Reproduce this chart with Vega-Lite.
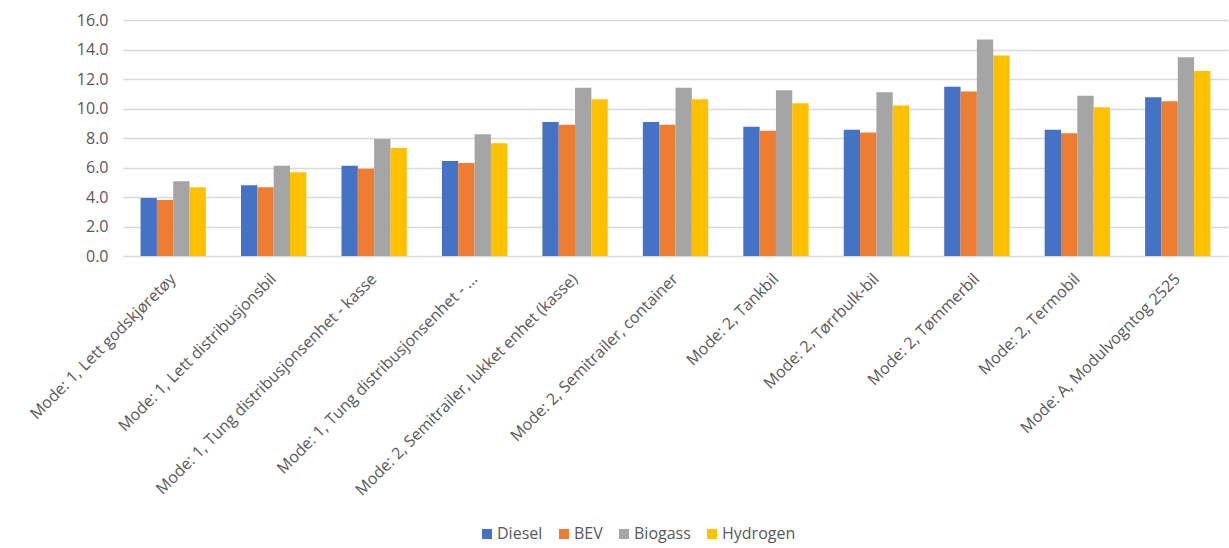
{
  "$schema": "https://vega.github.io/schema/vega-lite/v6.json",
  "width": 1105,
  "height": 236,
  "autosize": {"type": "none"},
  "padding": {"left": 123, "top": 20, "right": 1, "bottom": 292},
  "background": "white",
  "config": {
    "view": {"stroke": null},
    "font": "Open Sans",
    "axis": {"labelFont": "Open Sans", "labelColor": "#595959", "labelFontSize": 16},
    "legend": {"labelFont": "Open Sans", "labelColor": "#595959", "labelFontSize": 16}
  },
  "data": {
    "values": [
      {"vehicle": "Mode: 1, Lett godskjøretøy", "fuel": "Diesel", "value": 3.93},
      {"vehicle": "Mode: 1, Lett godskjøretøy", "fuel": "BEV", "value": 3.8},
      {"vehicle": "Mode: 1, Lett godskjøretøy", "fuel": "Biogass", "value": 5.06},
      {"vehicle": "Mode: 1, Lett godskjøretøy", "fuel": "Hydrogen", "value": 4.66},
      {"vehicle": "Mode: 1, Lett distribusjonsbil", "fuel": "Diesel", "value": 4.79},
      {"vehicle": "Mode: 1, Lett distribusjonsbil", "fuel": "BEV", "value": 4.66},
      {"vehicle": "Mode: 1, Lett distribusjonsbil", "fuel": "Biogass", "value": 6.12},
      {"vehicle": "Mode: 1, Lett distribusjonsbil", "fuel": "Hydrogen", "value": 5.67},
      {"vehicle": "Mode: 1, Tung distribusjonsenhet - kasse", "fuel": "Diesel", "value": 6.12},
      {"vehicle": "Mode: 1, Tung distribusjonsenhet - kasse", "fuel": "BEV", "value": 5.92},
      {"vehicle": "Mode: 1, Tung distribusjonsenhet - kasse", "fuel": "Biogass", "value": 7.93},
      {"vehicle": "Mode: 1, Tung distribusjonsenhet - kasse", "fuel": "Hydrogen", "value": 7.32},
      {"vehicle": "Mode: 1, Tung distribusjonsenhet - ...", "fuel": "Diesel", "value": 6.44},
      {"vehicle": "Mode: 1, Tung distribusjonsenhet - ...", "fuel": "BEV", "value": 6.31},
      {"vehicle": "Mode: 1, Tung distribusjonsenhet - ...", "fuel": "Biogass", "value": 8.25},
      {"vehicle": "Mode: 1, Tung distribusjonsenhet - ...", "fuel": "Hydrogen", "value": 7.64},
      {"vehicle": "Mode: 2, Semitrailer, lukket enhet (kasse)", "fuel": "Diesel", "value": 9.08},
      {"vehicle": "Mode: 2, Semitrailer, lukket enhet (kasse)", "fuel": "BEV", "value": 8.9},
      {"vehicle": "Mode: 2, Semitrailer, lukket enhet (kasse)", "fuel": "Biogass", "value": 11.41},
      {"vehicle": "Mode: 2, Semitrailer, lukket enhet (kasse)", "fuel": "Hydrogen", "value": 10.62},
      {"vehicle": "Mode: 2, Semitrailer, container", "fuel": "Diesel", "value": 9.08},
      {"vehicle": "Mode: 2, Semitrailer, container", "fuel": "BEV", "value": 8.9},
      {"vehicle": "Mode: 2, Semitrailer, container", "fuel": "Biogass", "value": 11.41},
      {"vehicle": "Mode: 2, Semitrailer, container", "fuel": "Hydrogen", "value": 10.62},
      {"vehicle": "Mode: 2, Tankbil", "fuel": "Diesel", "value": 8.77},
      {"vehicle": "Mode: 2, Tankbil", "fuel": "BEV", "value": 8.5},
      {"vehicle": "Mode: 2, Tankbil", "fuel": "Biogass", "value": 11.23},
      {"vehicle": "Mode: 2, Tankbil", "fuel": "Hydrogen", "value": 10.35},
      {"vehicle": "Mode: 2, Tørrbulk-bil", "fuel": "Diesel", "value": 8.56},
      {"vehicle": "Mode: 2, Tørrbulk-bil", "fuel": "BEV", "value": 8.38},
      {"vehicle": "Mode: 2, Tørrbulk-bil", "fuel": "Biogass", "value": 11.1},
      {"vehicle": "Mode: 2, Tørrbulk-bil", "fuel": "Hydrogen", "value": 10.21},
      {"vehicle": "Mode: 2, Tømmerbil", "fuel": "Diesel", "value": 11.48},
      {"vehicle": "Mode: 2, Tømmerbil", "fuel": "BEV", "value": 11.16},
      {"vehicle": "Mode: 2, Tømmerbil", "fuel": "Biogass", "value": 14.67},
      {"vehicle": "Mode: 2, Tømmerbil", "fuel": "Hydrogen", "value": 13.6},
      {"vehicle": "Mode: 2, Termobil", "fuel": "Diesel", "value": 8.56},
      {"vehicle": "Mode: 2, Termobil", "fuel": "BEV", "value": 8.32},
      {"vehicle": "Mode: 2, Termobil", "fuel": "Biogass", "value": 10.87},
      {"vehicle": "Mode: 2, Termobil", "fuel": "Hydrogen", "value": 10.08},
      {"vehicle": "Mode: A, Modulvogntog 2525", "fuel": "Diesel", "value": 10.76},
      {"vehicle": "Mode: A, Modulvogntog 2525", "fuel": "BEV", "value": 10.49},
      {"vehicle": "Mode: A, Modulvogntog 2525", "fuel": "Biogass", "value": 13.47},
      {"vehicle": "Mode: A, Modulvogntog 2525", "fuel": "Hydrogen", "value": 12.54}
    ]
  },
  "mark": {"type": "bar"},
  "encoding": {
    "x": {
      "field": "vehicle",
      "type": "nominal",
      "sort": null,
      "title": null,
      "scale": {"paddingInner": 0.35, "paddingOuter": 0.175},
      "axis": {
        "labelAngle": -45,
        "labelAlign": "right",
        "labelBaseline": "middle",
        "labelPadding": 20,
        "labelDx": 3,
        "labelLimit": 400,
        "ticks": false,
        "domain": false,
        "grid": false
      }
    },
    "xOffset": {"field": "fuel", "sort": ["Diesel", "BEV", "Biogass", "Hydrogen"]},
    "y": {
      "field": "value",
      "type": "quantitative",
      "title": null,
      "scale": {"domain": [0, 16], "nice": false},
      "axis": {
        "values": [0, 2, 4, 6, 8, 10, 12, 14, 16],
        "format": ".1f",
        "ticks": false,
        "domain": false,
        "labelPadding": 15,
        "gridColor": "#D9D9D9",
        "gridWidth": 1.5
      }
    },
    "color": {
      "field": "fuel",
      "type": "nominal",
      "sort": ["Diesel", "BEV", "Biogass", "Hydrogen"],
      "scale": {
        "domain": ["Diesel", "BEV", "Biogass", "Hydrogen"],
        "range": ["#4472C4", "#ED7D31", "#A5A5A5", "#FFC000"]
      },
      "legend": {
        "title": null,
        "orient": "none",
        "direction": "horizontal",
        "legendX": 356,
        "legendY": 506,
        "symbolType": "square",
        "symbolSize": 100,
        "symbolStrokeWidth": 0,
        "columnPadding": 13,
        "labelOffset": 2
      }
    }
  }
}
